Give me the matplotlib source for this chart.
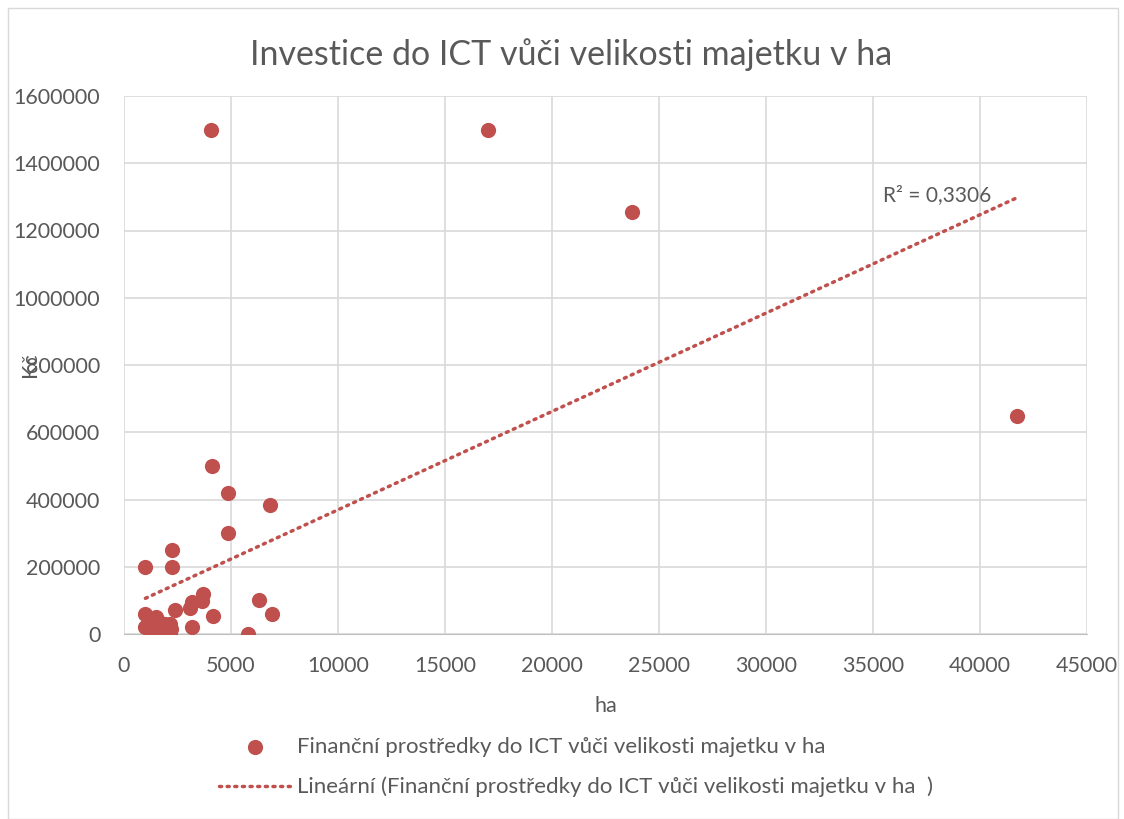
import numpy as np
import matplotlib.pyplot as plt
from matplotlib.patches import Rectangle

# Data (ha, Kč)
ha = [4050, 17000, 23750, 41750,
      4100, 4850, 6800, 4850, 2230, 1000, 2250,
      3700, 3630, 3160, 3080, 2400, 6300, 6900, 4150, 3200, 5800,
      1000, 1500, 1000, 1500, 2150, 2150, 1200, 1300, 1700, 1800,
      2000, 1600, 1200, 2200, 1400, 1900, 2100]
kc = [1500000, 1500000, 1255000, 648000,
      500000, 420000, 385000, 300000, 250000, 200000, 200000,
      120000, 97000, 95000, 78000, 70000, 100000, 60000, 55000, 20000, 0,
      60000, 50000, 20000, 5000, 0, 30000, 40000, 30000, 20000, 10000,
      25000, 40000, 20000, 15000, 10000, 30000, 5000]
r2_text = "R² = 0,3306"
series_name = "Finanční prostředky do ICT vůči velikosti majetku v ha"
trend_name = "Lineární (Finanční prostředky do ICT vůči velikosti majetku v ha  )"

red = "#C0504D"
grey = "#595959"
plt.rcParams['font.family'] = ['Lato', 'DejaVu Sans']

fig = plt.figure(figsize=(11.24, 8.19), dpi=100)
ax = fig.add_axes([124/1124, 1 - 634/819, (1087-124)/1124, (634-96)/819])

ax.scatter(ha, kc, s=120, color=red, zorder=3, label=series_name, linewidths=0)

# linear trend line
k, q = np.polyfit(ha, kc, 1)
xs = np.array([min(ha), max(ha)])
ax.plot(xs, k * xs + q, color=red, lw=2.5, linestyle=(0, (0.6, 1.6)),
        dash_capstyle='round', zorder=2, label=trend_name)
ax.text(35450, 1305000, r2_text, fontsize=15, color=grey, va='center')

ax.set_xlim(0, 45000)
ax.set_ylim(0, 1600000)
ax.set_xticks(np.arange(0, 45001, 5000))
ax.set_yticks(np.arange(0, 1600001, 200000))
ax.grid(True, color="#D9D9D9", lw=1.2)
ax.set_axisbelow(True)
for s in ['top', 'right', 'left']:
    ax.spines[s].set_visible(False)
ax.spines['bottom'].set_color("#BFBFBF")
ax.tick_params(length=0, labelsize=15.5, colors=grey)
ax.tick_params(axis='y', pad=17)
ax.tick_params(axis='x', pad=16)
ax.ticklabel_format(style='plain', useOffset=False)

fig.text(571/1124, 1 - 55/819, "Investice do ICT vůči velikosti majetku v ha",
         fontsize=24.5, color=grey, ha='center', va='center')
ax.set_xlabel("ha", fontsize=15.5, color=grey, labelpad=14)
fig.text(30/1124, 1 - 365/819, "Kč", rotation=90, fontsize=15.5, color=grey,
         ha='center', va='center')

leg = fig.legend(loc='center', bbox_to_anchor=(576/1124, 1 - 767/819),
                 ncol=1, frameon=False, fontsize=16, handlelength=3.2,
                 labelspacing=0.9, handletextpad=0.3, labelcolor=grey)

fig.patches.append(Rectangle((8/1124, 0), 1110/1124, 1 - 8/819, transform=fig.transFigure,
                             fill=False, edgecolor="#D9D9D9", lw=1))

fig.savefig("out.png", dpi=100)
